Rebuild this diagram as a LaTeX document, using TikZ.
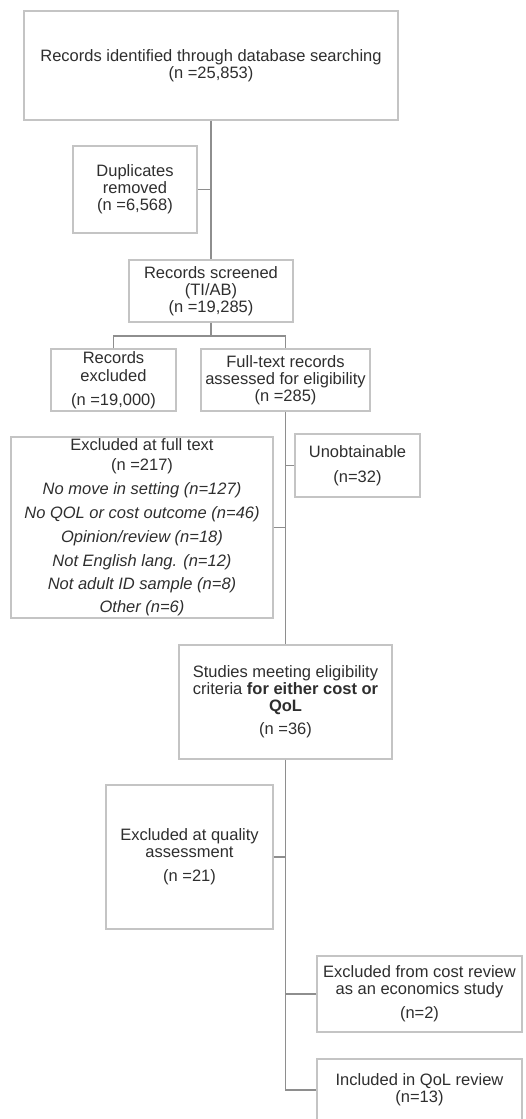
\documentclass[tikz,border=0pt]{standalone}
\usepackage{fontspec}
\setmainfont{Liberation Sans}
\definecolor{boxline}{HTML}{C4C4C4}
\definecolor{conn}{HTML}{8E8E8E}
\definecolor{txt}{HTML}{2E2E2E}
\tikzset{
  fbox/.style={draw=boxline, line width=1.3pt, rectangle, inner sep=0pt, align=center,
    text=txt, font=\fontsize{16.5}{17}\selectfont},
  link/.style={draw=conn, line width=1.9pt}
}
\begin{document}
\begin{tikzpicture}[x=1pt,y=-1pt]
\useasboundingbox (0,0) rectangle (525,1119);
\clip (0,0) rectangle (525,1119);
\node[fbox, minimum width=374pt, minimum height=109pt] (top) at (211,65.5)
  {Records identified through database searching\\(n =25,853)};
\node[fbox, minimum width=124pt, minimum height=87pt] (dup) at (135,189.5)
  {Duplicates\\removed\\(n =6,568)};
\node[fbox, minimum width=164pt, minimum height=62pt] (scr) at (211,291)
  {Records screened\\(TI/AB)\\(n =19,285)};
\node[fbox, minimum width=125pt, minimum height=62pt] (rex) at (113.5,380)
  {Records\\[1pt]excluded\\[7pt](n =19,000)};
\node[fbox, minimum width=169pt, minimum height=62pt] (ft) at (285.5,380)
  {Full-text records\\assessed for eligibility\\(n =285)};
\node[fbox, minimum width=262pt, minimum height=181pt] (eft) at (142,527.5)
  {Excluded at full text\\[3pt](n =217)\\[7pt]\textit{No move in setting (n=127)}\\[7pt]\textit{No QOL or cost outcome (n=46)}\\[7pt]\textit{Opinion/review (n=18)}\\[7pt]\textit{Not English lang. (n=12)}\\[6pt]\textit{Not adult ID sample (n=8)}\\[6pt]\textit{Other (n=6)}};
\node[fbox, minimum width=125pt, minimum height=63pt] (unob) at (357.5,465.5)
  {Unobtainable\\[8pt](n=32)};
\node[fbox, minimum width=213pt, minimum height=114pt] (stud) at (285.5,702)
  {Studies meeting eligibility\\criteria \textbf{for either cost or}\\\textbf{QoL}\\[6pt](n =36)};
\node[fbox, minimum width=167pt, minimum height=144pt] (qual) at (189.5,857)
  {Excluded at quality\\assessment\\[7pt](n =21)};
\node[fbox, minimum width=205pt, minimum height=76pt] (cost) at (419.5,994)
  {Excluded from cost review\\as an economics study\\[7pt](n=2)};
\node[fbox, minimum width=205pt, minimum height=62pt] (qol) at (419.5,1090)
  {Included in QoL review\\(n=13)};
\coordinate (j1) at (211,336);
% connectors
\draw[link] (top.south) -- (scr.north);
\draw[link] (dup.east) -- (dup.east -| top.south);
\draw[link] (scr.south) -- (j1);
\draw[link] (rex.north) |- (j1) -| (ft.north);
\draw[link] (ft.south) -- (stud.north);
\draw[link] (eft.east) -- (eft.east -| ft.south);
\draw[link] (unob.west) -- (unob.west -| ft.south);
\draw[link] (stud.south) -- (qol.west -| stud.south) -- (qol.west);
\draw[link] (qual.east) -- (qual.east -| stud.south);
\draw[link] (cost.west) -- (cost.west -| stud.south);
\end{tikzpicture}
\end{document}
